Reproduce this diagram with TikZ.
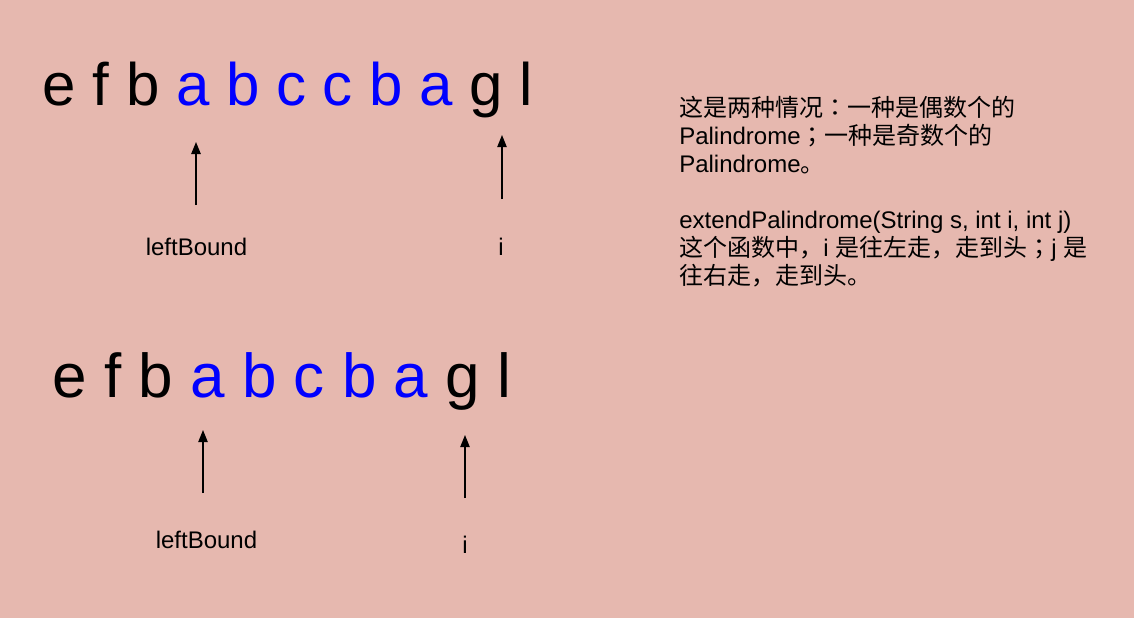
\documentclass[tikz,border=0pt]{standalone}
\usepackage{fontspec}
\setmainfont{Liberation Sans}
\newfontfamily\cjk{Noto Sans CJK SC}
\newfontfamily\cjkpunct{Noto Sans CJK JP}
\usetikzlibrary{arrows.meta}
\definecolor{bgpink}{HTML}{E6B8AF}
\definecolor{palblue}{HTML}{0000FF}
\newcommand{\zh}[1]{{\cjk #1}}
\newcommand{\zhp}[1]{{\cjkpunct #1}}

\begin{document}
\begin{tikzpicture}[x=0.75pt, y=-0.75pt, >={Triangle[length=9pt, width=7pt]},
    letters/.style={inner sep=0, anchor=base west},
    tag/.style={inner sep=0, font=\fontsize{18}{21}\selectfont},
    pointer/.style={->, line width=0.9pt}]
    \useasboundingbox (0,0) rectangle (1134,618);
    \fill[bgpink] (0,0) rectangle (1134,618);
    % even case
    \node[letters, font=\fontsize{45}{54}\selectfont] (even) at (42.6,105)
        {e f b \textcolor{palblue}{a b c c b a} g l};
    \node[tag, anchor=base west] (lbEven) at (145.5,255) {leftBound};
    \node[tag, anchor=base] (iEven) at (501,255) {i};
    \coordinate (lbEvenTail) at (196,205);
    \coordinate (lbEvenTip) at (196,142);
    \coordinate (iEvenTail) at (502,199);
    \coordinate (iEvenTip) at (502,135);
    \draw[pointer, line width=1.2pt] (lbEvenTail) -- (lbEvenTip);
    \draw[pointer] (iEvenTail) -- (iEvenTip);
    % odd case
    \node[letters, font=\fontsize{46.5}{56}\selectfont] (odd) at (52.5,397)
        {e f b \textcolor{palblue}{a b c b a} g l};
    \node[tag, anchor=base west] (lbOdd) at (155.5,548) {leftBound};
    \node[tag, anchor=base] (iOdd) at (465,553) {i};
    \coordinate (lbOddTail) at (203,493);
    \coordinate (lbOddTip) at (203,430);
    \coordinate (iOddTail) at (465,498);
    \coordinate (iOddTip) at (465,435);
    \draw[pointer] (lbOddTail) -- (lbOddTip);
    \draw[pointer] (iOddTail) -- (iOddTip);
    % note
    \node[tag, anchor=north west, align=left] (note) at (679,96)
        {\zh{这是两种情况}\zhp{：}\zh{一种是偶数个的}\\
         Palindrome\zhp{；}\zh{一种是奇数个的}\\
         Palindrome\zh{。}\\[21pt]
         extendPalindrome(String s, int i, int j)\\
         \zh{这个函数中，}i \zh{是往左走，走到头}\zhp{；}j \zh{是}\\
         \zh{往右走，走到头。}};
\end{tikzpicture}
\end{document}
